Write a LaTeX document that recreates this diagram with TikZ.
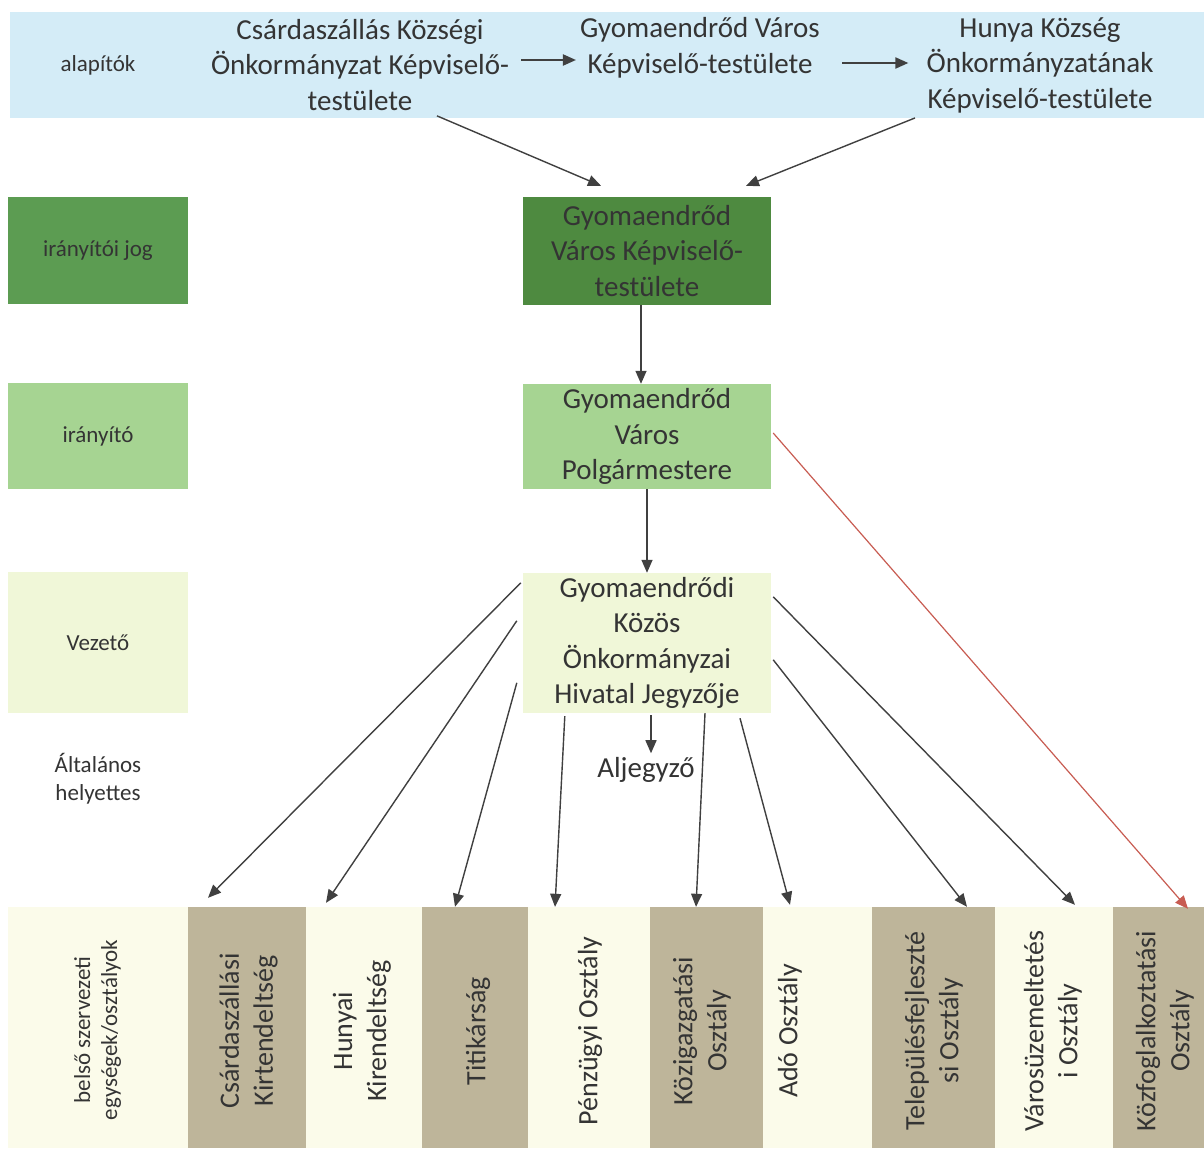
\documentclass[tikz,border=0pt]{standalone}
\usepackage{fontspec}
\setmainfont{Carlito}
\usetikzlibrary{arrows.meta}
\definecolor{bluebg}{RGB}{212,236,247}
\definecolor{dkgreen}{RGB}{78,138,64}
\definecolor{dkgreenl}{RGB}{92,156,82}
\definecolor{ltgreen}{RGB}{166,212,146}
\definecolor{palegreen}{RGB}{240,247,216}
\definecolor{palebg}{RGB}{251,251,234}
\definecolor{brownbox}{RGB}{190,181,154}
\definecolor{txtgray}{RGB}{52,52,52}
\definecolor{arrgray}{RGB}{64,64,64}
\definecolor{redarr}{RGB}{200,92,82}
\begin{document}
\begin{tikzpicture}[x=1pt,y=-1pt,
  txt/.style={font=\fontsize{29}{35.5}\selectfont, align=center, text=txtgray, inner sep=4pt},
  lbl/.style={font=\fontsize{23}{28}\selectfont, align=center, text=txtgray, inner sep=0pt},
  box/.style={minimum width=248pt, inner sep=0pt, align=center, font=\fontsize{29}{35.5}\selectfont, text=txtgray},
  lblbox/.style={minimum width=180pt, inner sep=0pt, align=center, font=\fontsize{23}{28}\selectfont, text=txtgray},
  arr/.style={draw=arrgray, line width=1.4pt, -{Triangle[length=13pt,width=11pt]}},
  col/.style={minimum height=241pt, inner sep=0pt, draw=none},
  coltxt/.style={rotate=90, font=\fontsize{28}{34}\selectfont, align=center, text=txtgray, inner sep=0pt}
]
\useasboundingbox (0,0) rectangle (1204,1148);
\fill[white] (0,0) rectangle (1204,1148);
% bands
\fill[bluebg] (10,12) rectangle (1204,118);
\fill[palebg] (8,907) rectangle (1204,1148);

% top row
\node[lbl] (alap) at (98,65) {alapítók};
\node[txt] (csa) at (360,65) {Csárdaszállás Községi\\Önkormányzat Képviselő-\\testülete};
\node[txt] (gyv) at (700,48) {Gyomaendrőd Város\\Képviselő-testülete};
\node[txt] (hun) at (1040,65) {Hunya Község\\Önkormányzatának\\Képviselő-testülete};

\draw[arr, line width=2pt, shorten <=8pt] ([yshift=5pt]csa.east) -- ([yshift=5pt]csa.east -| gyv.west);
\draw[arr, line width=2pt, shorten <=18pt, shorten >=14pt] ([yshift=-15pt]gyv.east) -- ([yshift=-15pt]gyv.east -| hun.west);

% left labels
\node[lblbox, fill=dkgreenl, minimum height=107pt] (l1) at (98,250.5) {irányítói jog};
\node[lblbox, fill=ltgreen, minimum height=106pt] (l2) at (98,436) {irányító};
\node[lblbox, fill=palegreen, minimum height=141pt] (l3) at (98,642.5) {Vezető};
\node[lbl] (alt) at (98,779) {Általános\\helyettes};

% central boxes
\node[box, fill=dkgreen, minimum height=108pt] (rep) at (647,251) {Gyomaendrőd\\Város Képviselő-\\testülete};
\node[box, fill=ltgreen, minimum height=105pt] (polg) at (647,436.5) {Gyomaendrőd\\Város\\Polgármestere};
\node[box, fill=palegreen, minimum height=140pt] (jegy) at (647,643) {Gyomaendrődi\\Közös\\Önkormányzai\\Hivatal Jegyzője};
\node[txt] (alj) at (646,770) {Aljegyző};

\draw[arr] ([xshift=77pt,yshift=-1pt]csa.south) -- ([xshift=-46pt,yshift=11pt]rep.north);
\draw[arr] ([xshift=-125pt,yshift=-1pt]hun.south) -- ([xshift=99pt,yshift=11pt]rep.north);
\draw[arr] ([xshift=-6pt]rep.south) -- ([xshift=-6pt]polg.north);
\draw[arr] (polg.south) -- (jegy.north);
\draw[arr] ([xshift=4pt,yshift=-2pt]jegy.south) -- ([xshift=5pt]alj.north);

% bottom columns
\node[col, fill=brownbox, minimum width=118pt] (c1) at (247,1027.5) {};
\node[col, minimum width=116pt] (c2) at (364,1027.5) {};
\node[col, fill=brownbox, minimum width=106pt] (c3) at (475,1027.5) {};
\node[col, minimum width=122pt] (c4) at (589,1027.5) {};
\node[col, fill=brownbox, minimum width=113pt] (c5) at (706.5,1027.5) {};
\node[col, minimum width=109pt] (c6) at (817.5,1027.5) {};
\node[col, fill=brownbox, minimum width=123pt] (c7) at (933.5,1027.5) {};
\node[col, minimum width=118pt] (c8) at (1054,1027.5) {};
\node[col, fill=brownbox, minimum width=91pt] (c9) at (1158.5,1027.5) {};

\node[coltxt, font=\fontsize{23}{27}\selectfont] (t0) at (97.5,1030) {belső szervezeti\\egységek/osztályok};
\node[coltxt] (t1) at (248.5,1031) {Csárdaszállási\\Kirtendeltség};
\node[coltxt] (t2) at (362,1031) {Hunyai\\Kirendeltség};
\node[coltxt] (t3) at (478,1031) {Titikárság};
\node[coltxt] (t4) at (590,1031) {Pénzügyi Osztály};
\node[coltxt] (t5) at (702,1031) {Közigazgatási\\Osztály};
\node[coltxt] (t6) at (790,1031) {Adó Osztály};
\node[coltxt] (t7) at (934,1031) {Településfejleszté\\si Osztály};
\node[coltxt] (t8) at (1053,1031) {Városüzemeltetés\\i Osztály};
\node[coltxt] (t9) at (1165,1031) {Közfoglalkoztatási\\Osztály};

% arrows from Jegyzo
\draw[arr] ([xshift=-2pt,yshift=-10pt]jegy.north west) -- ([xshift=-39pt,yshift=9pt]c1.north);
\draw[arr] ([xshift=-6pt,yshift=-48pt]jegy.north west) -- ([xshift=-38pt,yshift=4pt]c2.north);
\draw[arr] ([xshift=-6pt,yshift=-110pt]jegy.north west) -- ([xshift=-20pt,yshift=0pt]c3.north);
\draw[arr] ([xshift=42pt,yshift=-3pt]jegy.south west) -- ([xshift=-34pt,yshift=0pt]c4.north);
\draw[arr] ([xshift=58pt]jegy.south) -- ([xshift=-10.5pt,yshift=0pt]c5.north);
\draw[arr] ([xshift=93pt,yshift=-5pt]jegy.south) -- ([xshift=-27.5pt,yshift=2pt]c6.north);
\draw[arr] ([xshift=2pt,yshift=-87pt]jegy.north east) -- ([xshift=33.5pt,yshift=0pt]c7.north);
\draw[arr] ([xshift=2pt,yshift=-24pt]jegy.north east) -- ([xshift=21pt,yshift=2pt]c8.north);
\draw[arr, draw=redarr, line width=1.2pt] ([xshift=2pt,yshift=3.5pt]polg.east) -- ([xshift=29.5pt,yshift=-2pt]c9.north);
\end{tikzpicture}
\end{document}
